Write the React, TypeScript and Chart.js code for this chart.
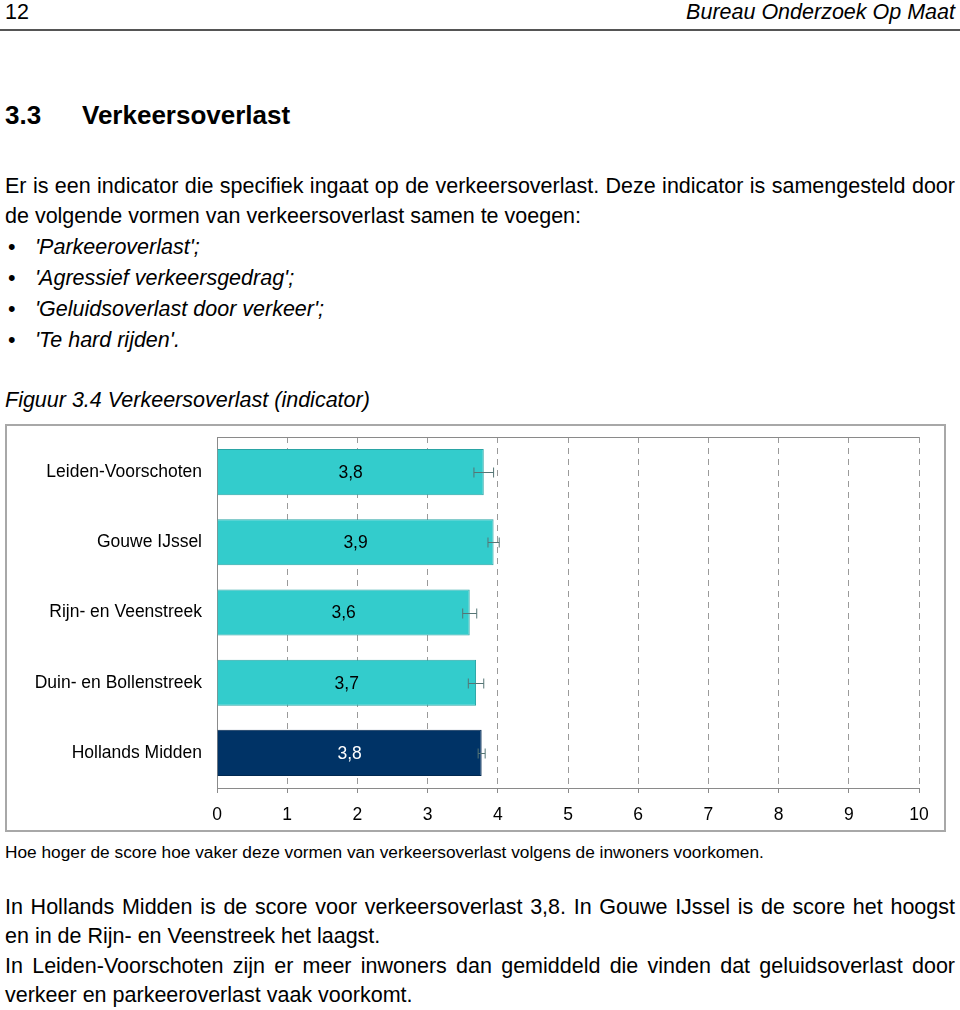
import React, { useEffect, useRef } from "react";
import { Chart, registerables } from "chart.js";

Chart.register(...registerables);

const categories = [
  "Leiden-Voorschoten",
  "Gouwe IJssel",
  "Rijn- en Veenstreek",
  "Duin- en Bollenstreek",
  "Hollands Midden",
];
const scores = [3.8, 3.94, 3.6, 3.69, 3.77];
const errLow = [3.66, 3.86, 3.5, 3.58, 3.72];
const errHigh = [3.94, 4.02, 3.7, 3.8, 3.82];
const barColors = ["#33CCCC", "#33CCCC", "#33CCCC", "#33CCCC", "#003366"];
const barBorders = ["#2AA5A5", "#2AA5A5", "#2AA5A5", "#2AA5A5", "#002850"];
const labelColors = ["#000000", "#000000", "#000000", "#000000", "#FFFFFF"];
const xTicks = [0, 1, 2, 3, 4, 5, 6, 7, 8, 9, 10];

const FONT = "'Liberation Sans', Arial, Helvetica, sans-serif";

const fmt = (v: number) => v.toFixed(1).replace(".", ",");

const framePlugin = {
  id: "frameTop",
  beforeDatasetsDraw(chart: any) {
    const { ctx, chartArea } = chart;
    ctx.save();
    ctx.strokeStyle = "#8a8a8a";
    ctx.lineWidth = 1;
    ctx.beginPath();
    ctx.moveTo(chartArea.left, chartArea.top + 0.5);
    ctx.lineTo(chartArea.right, chartArea.top + 0.5);
    ctx.stroke();
    ctx.restore();
  },
};

const labelPlugin = {
  id: "barLabels",
  afterDatasetsDraw(chart: any) {
    const { ctx } = chart;
    const meta = chart.getDatasetMeta(0);
    const xs = chart.scales.x;
    ctx.save();
    ctx.strokeStyle = "#557575";
    ctx.lineWidth = 1;
    meta.data.forEach((el: any, i: number) => {
      const x1 = xs.getPixelForValue(errLow[i]);
      const x2 = xs.getPixelForValue(errHigh[i]);
      const y = Math.round(el.y) + 0.5;
      ctx.beginPath();
      ctx.moveTo(x1, y);
      ctx.lineTo(x2, y);
      ctx.moveTo(x1, y - 5);
      ctx.lineTo(x1, y + 5);
      ctx.moveTo(x2, y - 5);
      ctx.lineTo(x2, y + 5);
      ctx.stroke();
    });
    ctx.font = `17.5px ${FONT}`;
    ctx.textAlign = "center";
    ctx.textBaseline = "middle";
    meta.data.forEach((el: any, i: number) => {
      ctx.fillStyle = labelColors[i];
      ctx.fillText(fmt(scores[i]), (el.x + el.base) / 2, el.y + 1);
    });
    ctx.restore();
  },
};

function BarChart() {
  const ref = useRef<HTMLCanvasElement | null>(null);
  useEffect(() => {
    if (!ref.current) return;
    const chart = new Chart(ref.current, {
      type: "bar",
      data: {
        labels: categories,
        datasets: [
          {
            data: scores,
            backgroundColor: barColors,
            borderColor: barBorders,
            borderWidth: 1,
            barPercentage: 0.656,
            categoryPercentage: 1,
          },
        ],
      },
      options: {
        indexAxis: "y",
        animation: false,
        responsive: false,
        maintainAspectRatio: false,
        events: [],
        layout: { padding: { top: 11, right: 25, bottom: 0, left: 0 } },
        plugins: {
          legend: { display: false },
          tooltip: { enabled: false },
          title: { display: false },
        },
        scales: {
          x: {
            type: "linear",
            min: 0,
            max: 10,
            afterBuildTicks: (scale: any) => {
              scale.ticks = xTicks.map((v) => ({ value: v }));
            },
            afterFit: (scale: any) => {
              scale.height = 42;
            },
            ticks: {
              color: "#000",
              font: { family: FONT, size: 17.5 },
              padding: 12,
              callback: (v: any) => String(v),
            },
            grid: {
              color: "#9a9a9a",
              lineWidth: 1,
              drawTicks: true,
              tickLength: 5,
              tickColor: "#8a8a8a",
            },
            border: { display: true, color: "#8a8a8a", width: 1, dash: [6, 5] },
          },
          y: {
            afterFit: (scale: any) => {
              scale.width = 210;
              scale.paddingTop = 0;
              scale.paddingBottom = 0;
            },
            ticks: {
              color: "#000",
              font: { family: FONT, size: 17.5 },
              padding: 15,
            },
            grid: { display: false, drawTicks: false },
            border: { display: true, color: "#8a8a8a", width: 1 },
          },
        },
      },
      plugins: [framePlugin, labelPlugin],
    } as any);
    return () => chart.destroy();
  }, []);
  return <canvas ref={ref} width={937} height={404} style={{ display: "block", width: 937, height: 404 }} />;
}

const abs = (left: number, top: number, extra: React.CSSProperties = {}): React.CSSProperties => ({
  position: "absolute",
  left,
  top,
  whiteSpace: "nowrap",
  ...extra,
});

const body: React.CSSProperties = { fontSize: 21.5, lineHeight: "22px" };
const just: React.CSSProperties = { width: 950, textAlign: "justify", textAlignLast: "justify" as any };

const bullets = [
  "'Parkeeroverlast';",
  "'Agressief verkeersgedrag';",
  "'Geluidsoverlast door verkeer';",
  "'Te hard rijden'.",
];
const bulletY = [236, 267, 298, 329];

export default function App() {
  return (
    <div
      style={{
        position: "absolute",
        left: 0,
        top: 0,
        width: 960,
        height: 1010,
        background: "#fff",
        color: "#000",
        fontFamily: FONT,
        overflow: "hidden",
      }}
    >
      <div style={abs(5, 1, body)}>12</div>
      <div style={abs(0, 1, { ...body, width: 955, textAlign: "right", fontStyle: "italic" })}>
        Bureau Onderzoek Op Maat
      </div>
      <div style={{ position: "absolute", left: 0, top: 29, width: 960, height: 2, background: "#555" }} />

      <div style={abs(5, 102, { fontSize: 26, lineHeight: "26px", fontWeight: "bold" })}>3.3</div>
      <div style={abs(82, 102, { fontSize: 26, lineHeight: "26px", fontWeight: "bold" })}>Verkeersoverlast</div>

      <div style={abs(5, 175, { ...body, ...just })}>
        Er is een indicator die specifiek ingaat op de verkeersoverlast. Deze indicator is samengesteld door
      </div>
      <div style={abs(5, 205, body)}>de volgende vormen van verkeersoverlast samen te voegen:</div>
      {bullets.map((b, i) => (
        <React.Fragment key={i}>
          <div style={abs(8, bulletY[i], body)}>•</div>
          <div style={abs(35, bulletY[i], { ...body, fontStyle: "italic" })}>{b}</div>
        </React.Fragment>
      ))}

      <div style={abs(5, 389, { ...body, fontStyle: "italic" })}>Figuur 3.4 Verkeersoverlast (indicator)</div>

      <div
        style={{
          position: "absolute",
          left: 5,
          top: 424,
          width: 937,
          height: 404,
          border: "2px solid #a8a8a8",
        }}
      >
        <BarChart />
      </div>

      <div style={abs(5, 843, { fontSize: 17.3, lineHeight: "18px" })}>
        Hoe hoger de score hoe vaker deze vormen van verkeersoverlast volgens de inwoners voorkomen.
      </div>

      <div style={abs(5, 896, { ...body, ...just })}>
        In Hollands Midden is de score voor verkeersoverlast 3,8. In Gouwe IJssel is de score het hoogst
      </div>
      <div style={abs(5, 925, body)}>en in de Rijn- en Veenstreek het laagst.</div>
      <div style={abs(5, 955, { ...body, ...just })}>
        In Leiden-Voorschoten zijn er meer inwoners dan gemiddeld die vinden dat geluidsoverlast door
      </div>
      <div style={abs(5, 984, body)}>verkeer en parkeeroverlast vaak voorkomt.</div>
    </div>
  );
}
